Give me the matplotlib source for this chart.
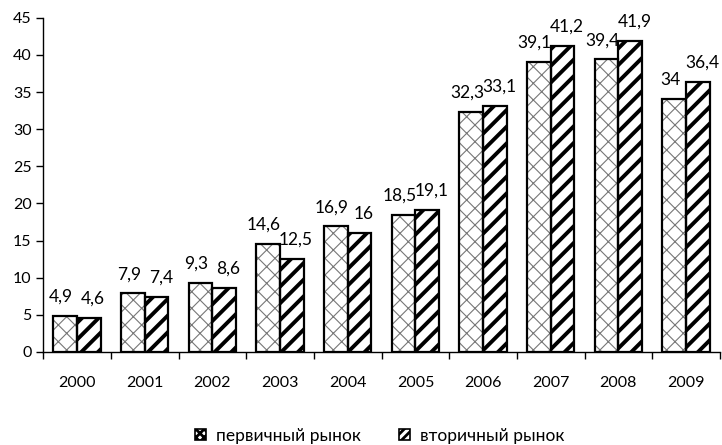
import numpy as np
import matplotlib as mpl
import matplotlib.pyplot as plt
from matplotlib.patches import Patch

plt.rcParams['font.family'] = ['Lato', 'DejaVu Sans']

# данные
years = ['2000', '2001', '2002', '2003', '2004', '2005', '2006', '2007', '2008', '2009']
primary = [4.9, 7.9, 9.3, 14.6, 16.9, 18.5, 32.3, 39.1, 39.4, 34]
secondary = [4.6, 7.4, 8.6, 12.5, 16, 19.1, 33.1, 41.2, 41.9, 36.4]
labels_primary = ['4,9', '7,9', '9,3', '14,6', '16,9', '18,5', '32,3', '39,1', '39,4', '34']
labels_secondary = ['4,6', '7,4', '8,6', '12,5', '16', '19,1', '33,1', '41,2', '41,9', '36,4']

fig = plt.figure(figsize=(7.22, 4.45), dpi=100)
ax = fig.add_axes([0.06, 0.209, 0.937, 0.751])

x = np.arange(len(years))
w = 0.35

# первичный рынок - сетка
mpl.rcParams['hatch.linewidth'] = 0.8
ax.bar(x - w/2, primary, w, color='white', edgecolor='#777777', hatch='xx', linewidth=0)
# вторичный рынок - толстые полосы
mpl.rcParams['hatch.linewidth'] = 2.8
ax.bar(x + w/2, secondary, w, color='white', edgecolor='black', hatch='//', linewidth=0)
# контуры
ax.bar(x - w/2, primary, w, fill=False, edgecolor='black', linewidth=1.6)
ax.bar(x + w/2, secondary, w, fill=False, edgecolor='black', linewidth=1.6)

for i in range(len(years)):
    ax.annotate(labels_primary[i], (x[i] - w/2, primary[i]), xytext=(-3, 8),
                textcoords='offset points', ha='center', va='bottom', fontsize=12.5)
    ax.annotate(labels_secondary[i], (x[i] + w/2, secondary[i]), xytext=(3, 8),
                textcoords='offset points', ha='center', va='bottom', fontsize=12.5)

ax.set_xlim(-0.5, len(years) - 0.5)
ax.set_ylim(0, 45)
ax.set_yticks(range(0, 46, 5))
ax.set_xticks(x)
ax.set_xticklabels(years)
ax.set_xticks(np.arange(-0.5, len(years), 1), minor=True)
ax.tick_params(axis='x', which='major', length=0, pad=17, labelsize=11.5)
ax.tick_params(axis='x', which='minor', length=5, width=1)
ax.tick_params(axis='y', length=5, width=1, labelsize=11.5)
for s in ['top', 'right']:
    ax.spines[s].set_visible(False)
ax.spines['left'].set_linewidth(1)
ax.spines['bottom'].set_linewidth(1)

mpl.rcParams['hatch.linewidth'] = 0.8
h1 = Patch(facecolor='white', edgecolor='black', hatch='xxxx', linewidth=1.2, label='первичный рынок')
mpl.rcParams['hatch.linewidth'] = 2.0
h2 = Patch(facecolor='white', edgecolor='black', hatch='////', linewidth=1.2, label='вторичный рынок')
fig.legend(handles=[h1, h2], loc='center', bbox_to_anchor=(0.526, 0.02), ncol=2, frameon=False,
           fontsize=12.5, handlelength=0.6, handleheight=0.6, handletextpad=0.6, columnspacing=2.2)

fig.savefig('out.png', dpi=100)
